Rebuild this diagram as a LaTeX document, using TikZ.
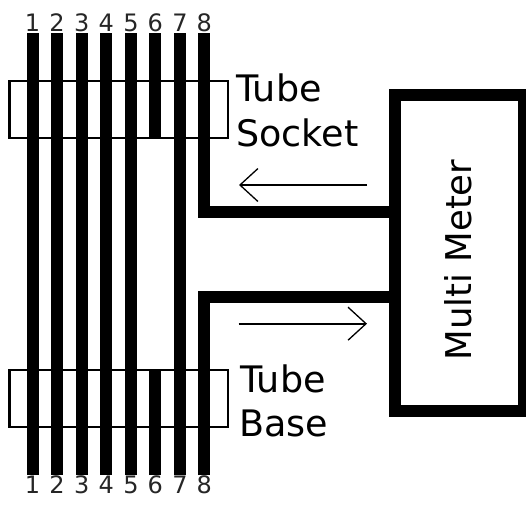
\documentclass[tikz,border=0pt]{standalone}
\usepackage{fontspec}
\setmainfont{DejaVu Sans}
\usetikzlibrary{arrows.meta}
\usetikzlibrary{positioning}
\begin{document}
\begin{tikzpicture}[x=1pt,y=-1pt,node distance=1pt]
\tikzstyle{pinwire}=[line width=12pt,line cap=butt,miter limit=10]
\tikzstyle{pinlabel}=[font=\fontsize{24}{24}\selectfont,inner sep=0pt,text height=17.5pt,text depth=0pt,text=black!85]
\tikzstyle{tubebox}=[draw,line width=2.4pt,fill=white,minimum width=218.5pt,minimum height=57pt,outer sep=0pt]
\tikzstyle{tubetext}=[font=\fontsize{36.5}{36.5}\selectfont,inner sep=0pt,anchor=base west]
\tikzstyle{flow}=[line width=2pt,-{Straight Barb[length=18pt,width=33pt,line width=1.3pt]}]
\useasboundingbox (0,0) rectangle (526,504);

\node[tubebox] (socket) at (118.8,109.5) {};
\node[tubebox] (base) at (118.8,398.3) {};

% pins, left to right
\foreach \n/\x in {1/32.5,2/57,3/81.7,4/106.3,5/131,6/155.3,7/180,8/204.3} {
  \coordinate (top\n) at (\x,33);
  \coordinate (bot\n) at (\x,475);
  \node[pinlabel,above=of top\n] (ltop\n) {\n};
  \node[pinlabel,below=of bot\n] (lbot\n) {\n};
}
\foreach \n in {1,2,3,4,5,7} {
  \draw[pinwire] (top\n) -- (bot\n);
}
\draw[pinwire] (top6) -- (top6 |- socket.south);
\draw[pinwire] (bot6) -- (bot6 |- base.north);

\node[draw,line width=12pt,minimum width=128.7pt,minimum height=316pt,outer sep=0pt] (meter) at (459.35,253) {};
\node[rotate=90,font=\fontsize{35.5}{35.5}\selectfont,inner sep=0pt] (metertext) at (458,260) {Multi Meter};

\coordinate (up) at (395,211.5);
\coordinate (down) at (395,297);
\draw[pinwire] (top8) |- (up);
\draw[pinwire] (bot8) |- (down);

\coordinate (arr1) at (367,185);
\coordinate (arr2) at (239,185);
\coordinate (arr3) at (238.5,323.7);
\coordinate (arr4) at (367,323.7);
\draw[flow] (arr1) -- (arr2);
\draw[flow] (arr3) -- (arr4);

\node[tubetext] (tube1) at (236,101) {Tube};
\node[tubetext] (sock) at (236,146) {Socket};
\node[tubetext] (tube2) at (240,392) {Tube};
\node[tubetext] (bas) at (239,436) {Base};
\end{tikzpicture}
\end{document}
